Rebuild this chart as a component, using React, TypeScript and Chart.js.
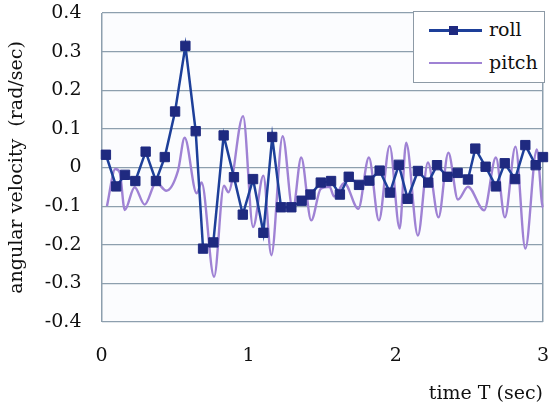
import React, { useEffect, useRef } from "react";
import { Chart, registerables } from "chart.js";

Chart.register(...registerables);

const rollT = [0.03, 0.10, 0.16, 0.23, 0.30, 0.37, 0.43, 0.50, 0.57, 0.64, 0.69, 0.76, 0.83, 0.90, 0.96, 1.03, 1.10, 1.16, 1.22, 1.29, 1.36, 1.42, 1.49, 1.56, 1.62, 1.68, 1.75, 1.82, 1.89, 1.96, 2.02, 2.08, 2.15, 2.22, 2.28, 2.35, 2.42, 2.49, 2.54, 2.61, 2.68, 2.74, 2.81, 2.88, 2.95, 3.00, 3.02];
const rollV = [0.033, -0.049, -0.019, -0.035, 0.041, -0.035, 0.027, 0.145, 0.315, 0.094, -0.21, -0.194, 0.083, -0.025, -0.122, -0.03, -0.169, 0.079, -0.103, -0.103, -0.086, -0.07, -0.039, -0.035, -0.07, -0.024, -0.045, -0.034, -0.008, -0.065, 0.007, -0.081, -0.009, -0.039, 0.006, -0.024, -0.014, -0.031, 0.049, 0.002, -0.049, 0.011, -0.03, 0.058, 0.006, 0.027, -0.05];

const pitchT = [0.037, 0.094, 0.124, 0.158, 0.225, 0.293, 0.372, 0.44, 0.52, 0.565, 0.647, 0.68, 0.765, 0.832, 0.862, 0.962, 1.03, 1.10, 1.154, 1.231, 1.30, 1.357, 1.425, 1.49, 1.55, 1.58, 1.65, 1.745, 1.817, 1.885, 1.958, 2.026, 2.07, 2.15, 2.218, 2.29, 2.357, 2.422, 2.49, 2.6, 2.68, 2.741, 2.813, 2.88, 2.958, 3.0, 3.04];
const pitchV = [-0.10, -0.004, -0.013, -0.11, -0.051, -0.096, -0.039, -0.06, -0.008, 0.077, -0.067, -0.039, -0.283, -0.047, -0.064, 0.133, -0.154, -0.021, -0.227, 0.081, -0.11, 0.026, -0.137, -0.055, -0.05, -0.075, -0.04, -0.107, 0.026, -0.137, 0.056, -0.158, 0.064, -0.176, 0.013, -0.129, 0.038, -0.083, -0.05, -0.111, 0.026, -0.129, 0.054, -0.21, 0.047, -0.105, -0.05];

const xTicks = [0, 1, 2, 3];
const yMin = -0.4;
const yMax = 0.4;

const FONT = "'DejaVu Serif', 'Liberation Serif', serif";
const ROLL_LINE = "#1d3f99";
const ROLL_MARK = "#1f2a80";
const PITCH = "#9f82d4";
const GRID = "#8d9fae";

const plotBg = {
  id: "plotBg",
  beforeDraw(chart: any) {
    const { ctx, chartArea: a } = chart;
    ctx.save();
    ctx.fillStyle = "#fbfcfe";
    ctx.fillRect(a.left, a.top, a.right - a.left, a.bottom - a.top);
    ctx.restore();
  },
};

export default function App() {
  const ref = useRef<HTMLCanvasElement>(null);
  useEffect(() => {
    const canvas = ref.current!;
    const chart = new Chart(canvas, {
      type: "scatter",
      data: {
        datasets: [
          {
            label: "roll",
            data: rollT.map((t, i) => ({ x: t, y: rollV[i] })),
            showLine: true,
            borderColor: ROLL_LINE,
            borderWidth: 2.5,
            backgroundColor: ROLL_MARK,
            pointBorderColor: ROLL_MARK,
            pointStyle: "rect",
            pointRadius: rollT.map((t) => (t > 3.001 ? 0 : 6.6)),
            pointBorderWidth: 1,
            tension: 0,
            clip: 8,
            order: 0,
          },
          {
            label: "pitch",
            data: pitchT.map((t, i) => ({ x: t, y: pitchV[i] })),
            showLine: true,
            borderColor: PITCH,
            borderWidth: 2.4,
            pointRadius: 0,
            cubicInterpolationMode: "monotone",
            clip: 8,
            order: 1,
          },
        ],
      },
      options: {
        animation: false,
        responsive: false,
        devicePixelRatio: 1,
        layout: { padding: { top: 13, right: 12, left: 0, bottom: 0 } },
        plugins: { legend: { display: false }, tooltip: { enabled: false } },
        scales: {
          x: {
            type: "linear",
            min: 0,
            max: 3,
            afterBuildTicks: (s: any) => {
              s.ticks = xTicks.map((v) => ({ value: v }));
            },
            afterFit: (s: any) => {
              s.height = 85;
              s.paddingLeft = 0;
              s.paddingRight = 0;
            },
            ticks: {
              padding: 23,
              color: "#111",
              font: { family: FONT, size: 19 },
              callback: (v: any) => String(v),
            },
            grid: {
              drawTicks: false,
              color: (c: any) => (c.tick && (c.tick.value === 0 || c.tick.value === 3) ? GRID : "rgba(0,0,0,0)"),
              lineWidth: 1.5,
            },
            border: { display: false },
            title: {
              display: true,
              text: "time T (sec)",
              align: "end",
              color: "#111",
              font: { family: FONT, size: 19 },
              padding: { top: 0, bottom: 2 },
            },
          },
          y: {
            min: yMin,
            max: yMax,
            afterFit: (s: any) => {
              s.width = 101.5;
              s.paddingTop = 0;
              s.paddingBottom = 0;
            },
            ticks: {
              stepSize: 0.1,
              padding: 20,
              color: "#111",
              font: { family: FONT, size: 19 },
              callback: (v: any) => {
                const r = Math.round(Number(v) * 10) / 10;
                return r === 0 ? "0" : r.toFixed(1);
              },
            },
            grid: { drawTicks: false, color: GRID, lineWidth: 1.2 },
            border: { display: false },
            title: {
              display: true,
              text: "angular velocity  (rad/sec)",
              color: "#111",
              font: { family: FONT, size: 19 },
              padding: { top: 6, bottom: 0 },
            },
          },
        },
      },
      plugins: [plotBg],
    } as any);
    return () => chart.destroy();
  }, []);

  const legendText: React.CSSProperties = {
    position: "absolute",
    left: 75,
    fontFamily: FONT,
    fontSize: 19,
    lineHeight: "22px",
    color: "#111",
    whiteSpace: "nowrap",
  };

  return (
    <div style={{ position: "fixed", left: 0, top: 0, width: 555, height: 407, background: "#fff" }}>
      <canvas ref={ref} width={555} height={407} style={{ width: 555, height: 407, display: "block" }} />
      <div
        style={{
          position: "absolute",
          left: 413,
          top: 11,
          width: 130,
          height: 70,
          border: "1px solid #8d9aa6",
          background: "#fff",
        }}
      >
        <div style={{ position: "absolute", left: 15, top: 17, width: 53, height: 2.5, background: ROLL_LINE }} />
        <div style={{ position: "absolute", left: 35, top: 13.5, width: 9, height: 9, background: ROLL_MARK }} />
        <div style={{ ...legendText, top: 6 }}>roll</div>
        <div style={{ position: "absolute", left: 15, top: 50, width: 53, height: 2.2, background: PITCH }} />
        <div style={{ ...legendText, top: 39 }}>pitch</div>
      </div>
    </div>
  );
}
